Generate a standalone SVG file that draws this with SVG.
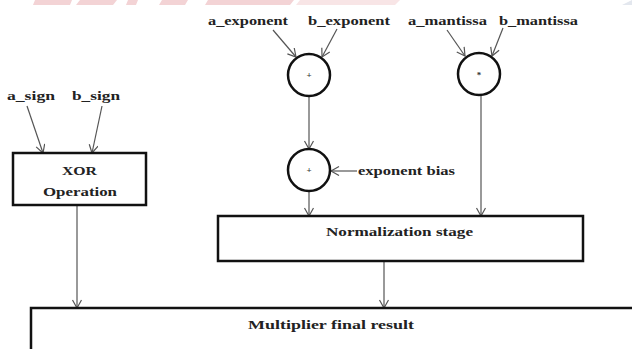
<svg xmlns="http://www.w3.org/2000/svg" width="632" height="349" viewBox="0 0 632 349">
<style>
.t{font-family:"Liberation Serif","Times New Roman",serif;font-weight:bold;font-size:13px;fill:#222}
.s{font-family:"Liberation Serif","Times New Roman",serif;font-weight:bold;font-size:9px;fill:#333}
.box{fill:#fff;stroke:#111;stroke-width:2.5}
.op{fill:#fff;stroke:#111;stroke-width:2.5}
.c{stroke:#555;stroke-width:1.2;fill:none}
.wm{fill:#f3d3d5}
</style>
<defs>
<marker id="ah" markerUnits="userSpaceOnUse" markerWidth="12" markerHeight="12" refX="9" refY="5" orient="auto">
<path d="M1,0.5 L9,5 L1,9.5" fill="none" stroke="#555" stroke-width="1.2"/>
</marker>
</defs>
<rect width="632" height="349" fill="#fff"/>
<g id="watermark">
<polygon class="wm" points="35,0 72,0 70,5 33,5"/>
<polygon class="wm" points="80,0 117,0 113,5 76,5"/>
<polygon class="wm" points="128,0 138,0 136,5 126,5"/>
<polygon class="wm" points="162,0 188,0 185,5 159,5"/>
<polygon class="wm" points="208,0 294,0 290,5 205,5"/>
<polygon class="wm" points="300,0 400,0 395,5 296,5" opacity="0.6"/>
<polygon points="622,5 632,0 632,5" fill="#e3e7ee"/>
</g>
<g id="connectors">
<line class="c" x1="27" y1="106" x2="43" y2="153" marker-end="url(#ah)"/>
<line class="c" x1="102" y1="106" x2="92" y2="153" marker-end="url(#ah)"/>
<line class="c" x1="273" y1="30" x2="296" y2="57" marker-end="url(#ah)"/>
<line class="c" x1="337" y1="29" x2="322" y2="57" marker-end="url(#ah)"/>
<line class="c" x1="447" y1="30" x2="465" y2="56" marker-end="url(#ah)"/>
<line class="c" x1="503" y1="28" x2="492" y2="56" marker-end="url(#ah)"/>
<line class="c" x1="309" y1="96" x2="309" y2="149" marker-end="url(#ah)"/>
<line class="c" x1="357" y1="171" x2="331" y2="171" marker-end="url(#ah)"/>
<line class="c" x1="309" y1="191" x2="309" y2="216" marker-end="url(#ah)"/>
<line class="c" x1="481" y1="95" x2="481" y2="216" marker-end="url(#ah)"/>
<line class="c" x1="77" y1="205" x2="77" y2="308" marker-end="url(#ah)"/>
<line class="c" x1="384" y1="262" x2="384" y2="308" marker-end="url(#ah)"/>
</g>
<g id="labels">
<text class="t" x="7" y="100" textLength="48" lengthAdjust="spacingAndGlyphs">a_sign</text>
<text class="t" x="72" y="100" textLength="48" lengthAdjust="spacingAndGlyphs">b_sign</text>
<text class="t" x="208" y="25" textLength="80" lengthAdjust="spacingAndGlyphs">a_exponent</text>
<text class="t" x="308" y="25" textLength="82" lengthAdjust="spacingAndGlyphs">b_exponent</text>
<text class="t" x="408" y="25" textLength="79" lengthAdjust="spacingAndGlyphs">a_mantissa</text>
<text class="t" x="499" y="25" textLength="79" lengthAdjust="spacingAndGlyphs">b_mantissa</text>
<text class="t" x="358" y="175" textLength="97" lengthAdjust="spacingAndGlyphs">exponent bias</text>
</g>
<g id="xor">
<rect class="box" x="13" y="153" width="133" height="52"/>
<text class="t" x="62" y="175" textLength="35" lengthAdjust="spacingAndGlyphs">XOR</text>
<text class="t" x="43" y="196" textLength="74" lengthAdjust="spacingAndGlyphs">Operation</text>
</g>
<g id="add1">
<circle class="op" cx="309" cy="75" r="21"/>
<text class="s" x="309" y="78" text-anchor="middle">+</text>
</g>
<g id="add2">
<circle class="op" cx="309" cy="170" r="21"/>
<text class="s" x="309" y="173" text-anchor="middle">+</text>
</g>
<g id="mul">
<circle class="op" cx="479" cy="74" r="21"/>
<text class="s" x="479" y="78" text-anchor="middle">*</text>
</g>
<g id="norm">
<rect class="box" x="218" y="216" width="365" height="45"/>
<text class="t" x="326" y="236" textLength="147" lengthAdjust="spacingAndGlyphs">Normalization stage</text>
</g>
<g id="result">
<rect class="box" x="31" y="308" width="620" height="60"/>
<text class="t" x="248" y="329" textLength="166" lengthAdjust="spacingAndGlyphs">Multiplier final result</text>
</g>
</svg>
